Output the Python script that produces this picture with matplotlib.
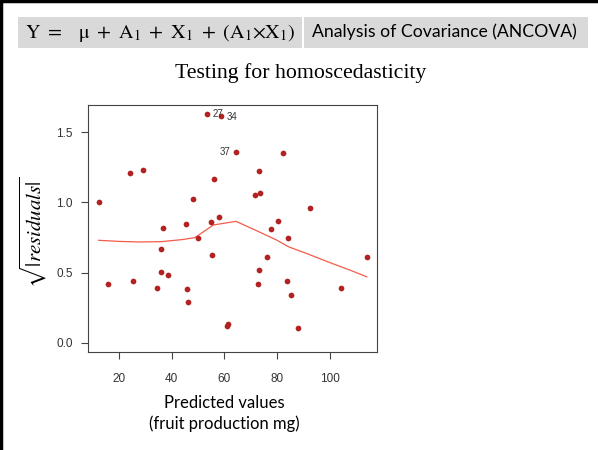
import matplotlib
matplotlib.use("Agg")
import matplotlib.pyplot as plt
from matplotlib.patches import Rectangle
from matplotlib.lines import Line2D

plt.rcParams["font.family"] = ["Liberation Sans", "DejaVu Sans"]

# Fitted values (x) vs sqrt(|standardized residuals|) (y)
fitted = [12.3, 24.2, 29.0, 53.4, 58.6, 64.4, 55.9, 48.0, 36.6, 45.4,
          54.9, 57.9, 82.2, 73.2, 71.6, 73.4, 92.6, 80.5, 77.6, 50.0,
          36.1, 55.4, 35.8, 38.6, 15.8, 25.4, 34.4, 45.8, 46.1, 60.9,
          61.3, 84.1, 76.1, 114.0, 73.0, 72.8, 83.8, 104.4, 85.3, 87.8]
sqrt_resid = [1.00, 1.21, 1.23, 1.628, 1.618, 1.357, 1.167, 1.026, 0.82, 0.846,
              0.858, 0.896, 1.352, 1.226, 1.05, 1.069, 0.962, 0.867, 0.81, 0.746,
              0.666, 0.623, 0.502, 0.483, 0.42, 0.437, 0.39, 0.38, 0.29, 0.121,
              0.135, 0.744, 0.613, 0.611, 0.518, 0.42, 0.44, 0.392, 0.34, 0.103]

# observations flagged by R
label_idx = [3, 4, 5]
label_names = ["27", "34", "37"]

# loess smoother (red line)
smooth_x = [12.3, 20, 28, 36, 44, 48.8, 52, 55.8, 64.4, 72, 80, 84.3, 92, 100, 108, 114]
smooth_y = [0.73, 0.722, 0.718, 0.72, 0.735, 0.749, 0.79, 0.839, 0.865, 0.80, 0.73,
            0.684, 0.63, 0.571, 0.515, 0.47]

x_ticks = [20, 40, 60, 80, 100]
y_ticks = [0.0, 0.5, 1.0, 1.5]
y_ticklabels = ["0.0", "0.5", "1.0", "1.5"]

W, H = 598, 450


def fx(px):
    return px / W


def fy(py):
    return 1 - py / H


fig = plt.figure(figsize=(W / 100, H / 100), dpi=100)

# slide frame: black lines on top and left
fig.add_artist(Line2D([0, 1], [fy(1.2), fy(1.2)], color="black", lw=2.5, transform=fig.transFigure))
fig.add_artist(Line2D([fx(1.2), fx(1.2)], [0, 1], color="black", lw=2.5, transform=fig.transFigure))

# header box
fig.add_artist(Rectangle((fx(18), fy(48)), (588 - 18) / W, (48 - 17) / H,
                         facecolor="#D9D9D9", edgecolor="none", transform=fig.transFigure))
fig.add_artist(Line2D([fx(303), fx(303)], [fy(48), fy(17)], color="white", lw=1.5,
                      transform=fig.transFigure))

formula = r"$\mathrm{Y\ =\ \ \ μ\ +\ A_1\ +\ X_1\ +\ (A_1{\times}X_1)}$"
fig.text(fx(25), fy(33), formula, ha="left", va="center", fontsize=14.5, math_fontfamily="stix")
fig.text(fx(312), fy(32), "Analysis of Covariance (ANCOVA)", ha="left", va="center",
         family="Lato", fontsize=12.7)

fig.text(fx(301), fy(73), "Testing for homoscedasticity", ha="center", va="center",
         family="Liberation Serif", fontsize=15.7)

# the R diagnostic plot
ax = fig.add_axes([fx(88), fy(352), (377 - 88) / W, (352 - 105) / H])
ax.scatter(fitted, sqrt_resid, s=17, color="#B22222", linewidths=0, zorder=3)
ax.plot(smooth_x, smooth_y, color="#F25C4A", lw=0.9, zorder=2)

offsets = [(4, 0), (4, -1), (-4, 0)]
aligns = ["left", "left", "right"]
for i, name, off, ha in zip(label_idx, label_names, offsets, aligns):
    ax.annotate(name, (fitted[i], sqrt_resid[i]), xytext=off, textcoords="offset points",
                ha=ha, va="center", fontsize=7, color="#333333")

ax.set_xlim(8.24, 117.9)
ax.set_ylim(-0.066, 1.694)
ax.set_xticks(x_ticks)
ax.set_yticks(y_ticks)
ax.set_yticklabels(y_ticklabels)
for s in ax.spines.values():
    s.set_color("#444444")
    s.set_linewidth(0.8)
ax.tick_params(length=5, width=0.8, color="#444444", labelsize=8.5, labelcolor="#333333")
ax.tick_params(axis="x", pad=10)
ax.tick_params(axis="y", pad=6)

fig.text(fx(33), fy(232), r"$\sqrt{|residuals|}$", rotation=90, ha="center", va="center",
         fontsize=15, math_fontfamily="stix")

fig.text(fx(224), fy(403), "Predicted values", ha="center", va="center", family="Lato", fontsize=12)
fig.text(fx(224), fy(424), "(fruit production mg)", ha="center", va="center", family="Lato", fontsize=12)

fig.savefig("out.png", dpi=100)
